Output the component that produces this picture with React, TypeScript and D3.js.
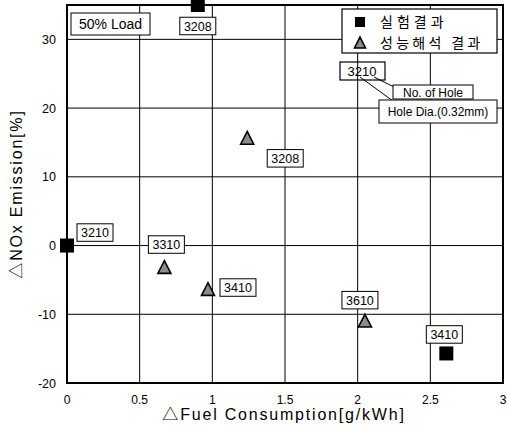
import React from "react";
import * as d3 from "d3";

const xTicks = [0, 0.5, 1, 1.5, 2, 2.5, 3];
const yTicks = [-20, -10, 0, 10, 20, 30];

const expNames = ["3208", "3210", "3410"];
const expX = [0.9, 0, 2.61];
const expY = [35, 0, -15.7];

const simNames = ["3208", "3310", "3410", "3610"];
const simX = [1.24, 0.67, 0.97, 2.05];
const simY = [15.6, -3.2, -6.4, -11.0];

const legendLabels = ["실험결과", "성능해석 결과"];

const W = 507, H = 428;
const L = 67, R = 503, T = 5, B = 383;

// label box offsets (dx, dy in px from the point) per point label
const expLabelOff = [[0, 21], [28, -13], [-2, -19]];
const simLabelOff = [[38, 20], [2, -23], [30, -2], [-5, -21]];

const font = "'Liberation Sans', Arial, 'Noto Sans CJK KR', sans-serif";

function LabelBox({ x, y, text, size = 12.5, pad = 8 }: { x: number; y: number; text: string; size?: number; pad?: number }) {
  const w = text.length * size * 0.56 + pad;
  const h = size + 5;
  return (
    <g>
      <rect x={x - w / 2} y={y - h / 2} width={w} height={h} fill="white" stroke="black" strokeWidth={1} />
      <text x={x} y={y + size * 0.36} textAnchor="middle" fontSize={size} fontFamily={font}>
        {text}
      </text>
    </g>
  );
}

function Tri({ x, y, s = 13 }: { x: number; y: number; s?: number }) {
  const h = s * 0.9;
  return (
    <path
      d={`M${x},${y - h / 2 - 1} L${x + s / 2},${y + h / 2} L${x - s / 2},${y + h / 2} Z`}
      fill="#8c8c8c"
      stroke="black"
      strokeWidth={1.6}
      strokeLinejoin="miter"
    />
  );
}

export default function App() {
  const x = d3.scaleLinear().domain([0, 3]).range([L, R]);
  const y = d3.scaleLinear().domain([-20, 35]).range([B, T]);

  return (
    <svg width={W} height={H} style={{ display: "block", position: "absolute", left: 0, top: 0, background: "white" }}>
      {/* grid */}
      {xTicks.map((t) => (
        <line key={"gx" + t} x1={x(t)} x2={x(t)} y1={T} y2={B} stroke="black" strokeWidth={1} />
      ))}
      {yTicks.map((t) => (
        <line key={"gy" + t} x1={L} x2={R} y1={y(t)} y2={y(t)} stroke="black" strokeWidth={1} />
      ))}
      <rect x={L} y={T} width={R - L} height={B - T} fill="none" stroke="black" strokeWidth={2} />

      {/* tick labels */}
      {xTicks.map((t) => (
        <text key={"tx" + t} x={x(t)} y={B + 21} textAnchor="middle" fontSize={12} fontFamily={font}>
          {t}
        </text>
      ))}
      {yTicks.map((t) => (
        <text key={"ty" + t} x={L - 11} y={y(t) + 4.5} textAnchor="end" fontSize={12.5} fontFamily={font}>
          {t}
        </text>
      ))}

      {/* axis titles */}
      <text x={284} y={420} textAnchor="middle" fontSize={16} letterSpacing={1.8} fontFamily={font}>
        △Fuel Consumption[g/kWh]
      </text>
      <text
        transform={`translate(22,194) rotate(-90)`}
        textAnchor="middle"
        fontSize={16}
        letterSpacing={1.8}
        fontFamily={font}
      >
        △NOx Emission[%]
      </text>

      {/* markers */}
      {expX.map((v, i) => (
        <rect key={"e" + i} x={x(v) - 7} y={y(expY[i]) - 7} width={14} height={14} fill="black" />
      ))}
      {simX.map((v, i) => (
        <Tri key={"s" + i} x={x(v)} y={y(simY[i])} />
      ))}

      {/* point labels */}
      {expX.map((v, i) => (
        <LabelBox key={"el" + i} x={x(v) + expLabelOff[i][0]} y={y(expY[i]) + expLabelOff[i][1]} text={expNames[i]} />
      ))}
      {simX.map((v, i) => (
        <LabelBox key={"sl" + i} x={x(v) + simLabelOff[i][0]} y={y(simY[i]) + simLabelOff[i][1]} text={simNames[i]} />
      ))}

      {/* 50% Load */}
      <rect x={71} y={13} width={79} height={22} fill="white" stroke="black" strokeWidth={1} />
      <text x={110.5} y={29} textAnchor="middle" fontSize={14} fontFamily={font}>50% Load</text>

      {/* annotation example */}
      <line x1={360} y1={77} x2={393} y2={101} stroke="black" strokeWidth={1} />
      <line x1={374} y1={77} x2={396} y2={88} stroke="black" strokeWidth={1} />
      <rect x={340} y={62} width={45} height={18} fill="none" stroke="black" strokeWidth={1.2} />
      <text x={362} y={76} textAnchor="middle" fontSize={13} fontFamily={font}>3210</text>
      <rect x={393} y={85} width={80} height={14} fill="white" stroke="black" strokeWidth={1} />
      <text x={433} y={96.5} textAnchor="middle" fontSize={12} fontFamily={font}>No. of Hole</text>
      <rect x={379} y={100} width={118} height={23} fill="white" stroke="black" strokeWidth={1} />
      <text x={438} y={116} textAnchor="middle" fontSize={12} fontFamily={font}>Hole Dia.(0.32mm)</text>

      {/* legend */}
      <rect x={342} y={9} width={155} height={44} fill="white" stroke="black" strokeWidth={1.2} />
      <rect x={355} y={17} width={10} height={10} fill="black" />
      <Tri x={360} y={43} s={11} />
      <text x={380} y={27} fontSize={14} letterSpacing={4} fontFamily="'Noto Sans CJK KR', sans-serif">
        {legendLabels[0]}
      </text>
      <text x={380} y={48} fontSize={14} letterSpacing={3.3} fontFamily="'Noto Sans CJK KR', sans-serif">
        {legendLabels[1]}
      </text>
    </svg>
  );
}
